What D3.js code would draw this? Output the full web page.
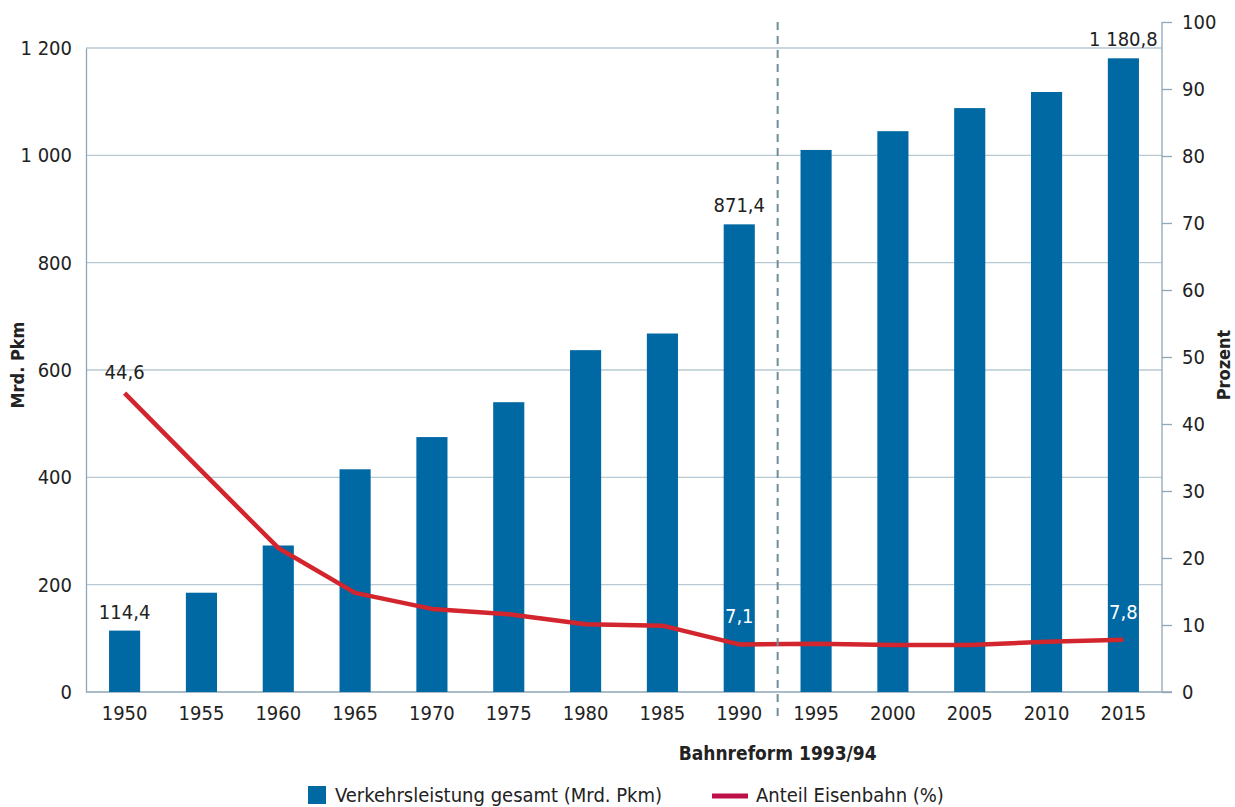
<!DOCTYPE html>
<html lang="de">
<head>
<meta charset="utf-8">
<script src="https://cdn.jsdelivr.net/npm/d3@7"></script>
<style>
  body { margin: 0; background: #fff; }
  svg text { font-family: "DejaVu Sans Condensed", "DejaVu Sans", sans-serif; fill: #222; }
</style>
</head>
<body>
<div id="chart"></div>
<script>
const years = ["1950","1955","1960","1965","1970","1975","1980","1985","1990","1995","2000","2005","2010","2015"];
const pkm = [114.4, 185, 273, 415, 475, 540, 637, 668, 871.4, 1010, 1045, 1088, 1118, 1180.8];
const railShare = [44.6, 33.0, 21.5, 14.8, 12.4, 11.6, 10.1, 9.9, 7.1, 7.2, 7.0, 7.0, 7.5, 7.8];
const leftTicks = [0, 200, 400, 600, 800, 1000, 1200];
const rightTicks = [0, 10, 20, 30, 40, 50, 60, 70, 80, 90, 100];
// which points get a value label
const barLabels = {"1950": "114,4", "1990": "871,4", "2015": "1 180,8"};
const lineLabels = {"1950": "44,6", "1990": "7,1", "2015": "7,8"};

const W = 1235, H = 807;
const mLeft = 86, mRight = 1162, mTop = 22, mBottom = 692;

const svg = d3.select("#chart").append("svg")
  .attr("width", W).attr("height", H);

const x = d3.scaleBand().domain(years).range([mLeft, mRight]).paddingInner(0.595).paddingOuter(0.3);
const yL = d3.scaleLinear().domain([0, 1200]).range([mBottom, 48]);
const yR = d3.scaleLinear().domain([0, 100]).range([mBottom, mTop]);

const fmt = d => d3.format(",")(d).replace(/,/g, " ");

// gridlines
svg.append("g").selectAll("line").data(leftTicks.filter(d => d > 0)).join("line")
  .attr("x1", mLeft).attr("x2", mRight)
  .attr("y1", d => yL(d)).attr("y2", d => yL(d))
  .attr("stroke", "#b9c9d3").attr("stroke-width", 1.3);

// left axis
const ax = svg.append("g").attr("transform", `translate(${mLeft},0)`)
  .call(d3.axisLeft(yL).tickValues(leftTicks).tickSize(0).tickPadding(14).tickFormat(fmt));
ax.select(".domain").attr("stroke", "#8ea6b6").attr("stroke-width", 1.3);
ax.selectAll("text").style("font-size", "20px").attr("fill", "#222");

// right axis
const ar = svg.append("g").attr("transform", `translate(${mRight},0)`)
  .call(d3.axisRight(yR).tickValues(rightTicks).tickSize(10).tickPadding(10));
ar.select(".domain").attr("stroke", "#8ea6b6").attr("stroke-width", 1.3).attr("d", `M0,${mTop}V${mBottom}`);
ar.selectAll(".tick line").attr("stroke", "#8ea6b6").attr("stroke-width", 1.3);
ar.selectAll("text").style("font-size", "20px").attr("fill", "#222");

// baseline / x axis
const axb = svg.append("g").attr("transform", `translate(0,${mBottom})`)
  .call(d3.axisBottom(x).tickSize(0).tickPadding(14));
axb.select(".domain").attr("stroke", "#8ea6b6").attr("stroke-width", 1.3).attr("d", `M${mLeft},0H${mRight + 10}`);
axb.selectAll("text").style("font-size", "20px").attr("fill", "#222");

// bars
svg.append("g").selectAll("rect").data(years).join("rect")
  .attr("x", d => x(d)).attr("width", x.bandwidth())
  .attr("y", (d, i) => yL(pkm[i])).attr("height", (d, i) => mBottom - yL(pkm[i]))
  .attr("fill", "#0069a3");

// line
const line = d3.line().x((d, i) => x(years[i]) + x.bandwidth() / 2).y(d => yR(d));
svg.append("path").datum(railShare).attr("d", line)
  .attr("fill", "none").attr("stroke", "#d3252d").attr("stroke-width", 4.5)
  .attr("stroke-linejoin", "round");

// dashed reform marker between 1990 and 1995
const mx = (x("1990") + x.bandwidth() / 2 + x("1995") + x.bandwidth() / 2) / 2;
svg.append("line").attr("x1", mx).attr("x2", mx).attr("y1", mTop).attr("y2", 722)
  .attr("stroke", "#6f8d9c").attr("stroke-width", 2).attr("stroke-dasharray", "8,6");
svg.append("text").attr("x", mx).attr("y", 760).attr("text-anchor", "middle")
  .style("font-size", "19px").style("font-weight", "bold").text("Bahnreform 1993/94");

// bar value labels
svg.append("g").selectAll("text").data(years.filter(d => barLabels[d])).join("text")
  .attr("x", d => x(d) + x.bandwidth() / 2)
  .attr("y", d => yL(pkm[years.indexOf(d)]) - 12)
  .attr("text-anchor", "middle").style("font-size", "20px")
  .text(d => barLabels[d]);

// line value labels
svg.append("g").selectAll("text").data(years.filter(d => lineLabels[d])).join("text")
  .attr("x", d => x(d) + x.bandwidth() / 2)
  .attr("y", d => yR(railShare[years.indexOf(d)]) - (d === "1950" ? 14 : 21))
  .attr("text-anchor", "middle").style("font-size", "20px")
  .style("fill", d => d === "1950" ? "#222" : "#fff")
  .text(d => lineLabels[d]);

// axis titles
svg.append("text").attr("transform", "translate(24,365) rotate(-90)")
  .attr("text-anchor", "middle").style("font-size", "18px").style("font-weight", "bold").text("Mrd. Pkm");
svg.append("text").attr("transform", "translate(1230,365) rotate(-90)")
  .attr("text-anchor", "middle").style("font-size", "18px").style("font-weight", "bold").text("Prozent");

// legend
const lg = svg.append("g");
lg.append("rect").attr("x", 308).attr("y", 786).attr("width", 18).attr("height", 18).attr("fill", "#0069a3");
lg.append("text").attr("x", 335).attr("y", 802).style("font-size", "20px").text("Verkehrsleistung gesamt (Mrd. Pkm)");
lg.append("line").attr("x1", 712).attr("x2", 748).attr("y1", 796).attr("y2", 796)
  .attr("stroke", "#be1048").attr("stroke-width", 5);
lg.append("text").attr("x", 756).attr("y", 802).style("font-size", "20px").text("Anteil Eisenbahn (%)");
</script>
</body>
</html>
